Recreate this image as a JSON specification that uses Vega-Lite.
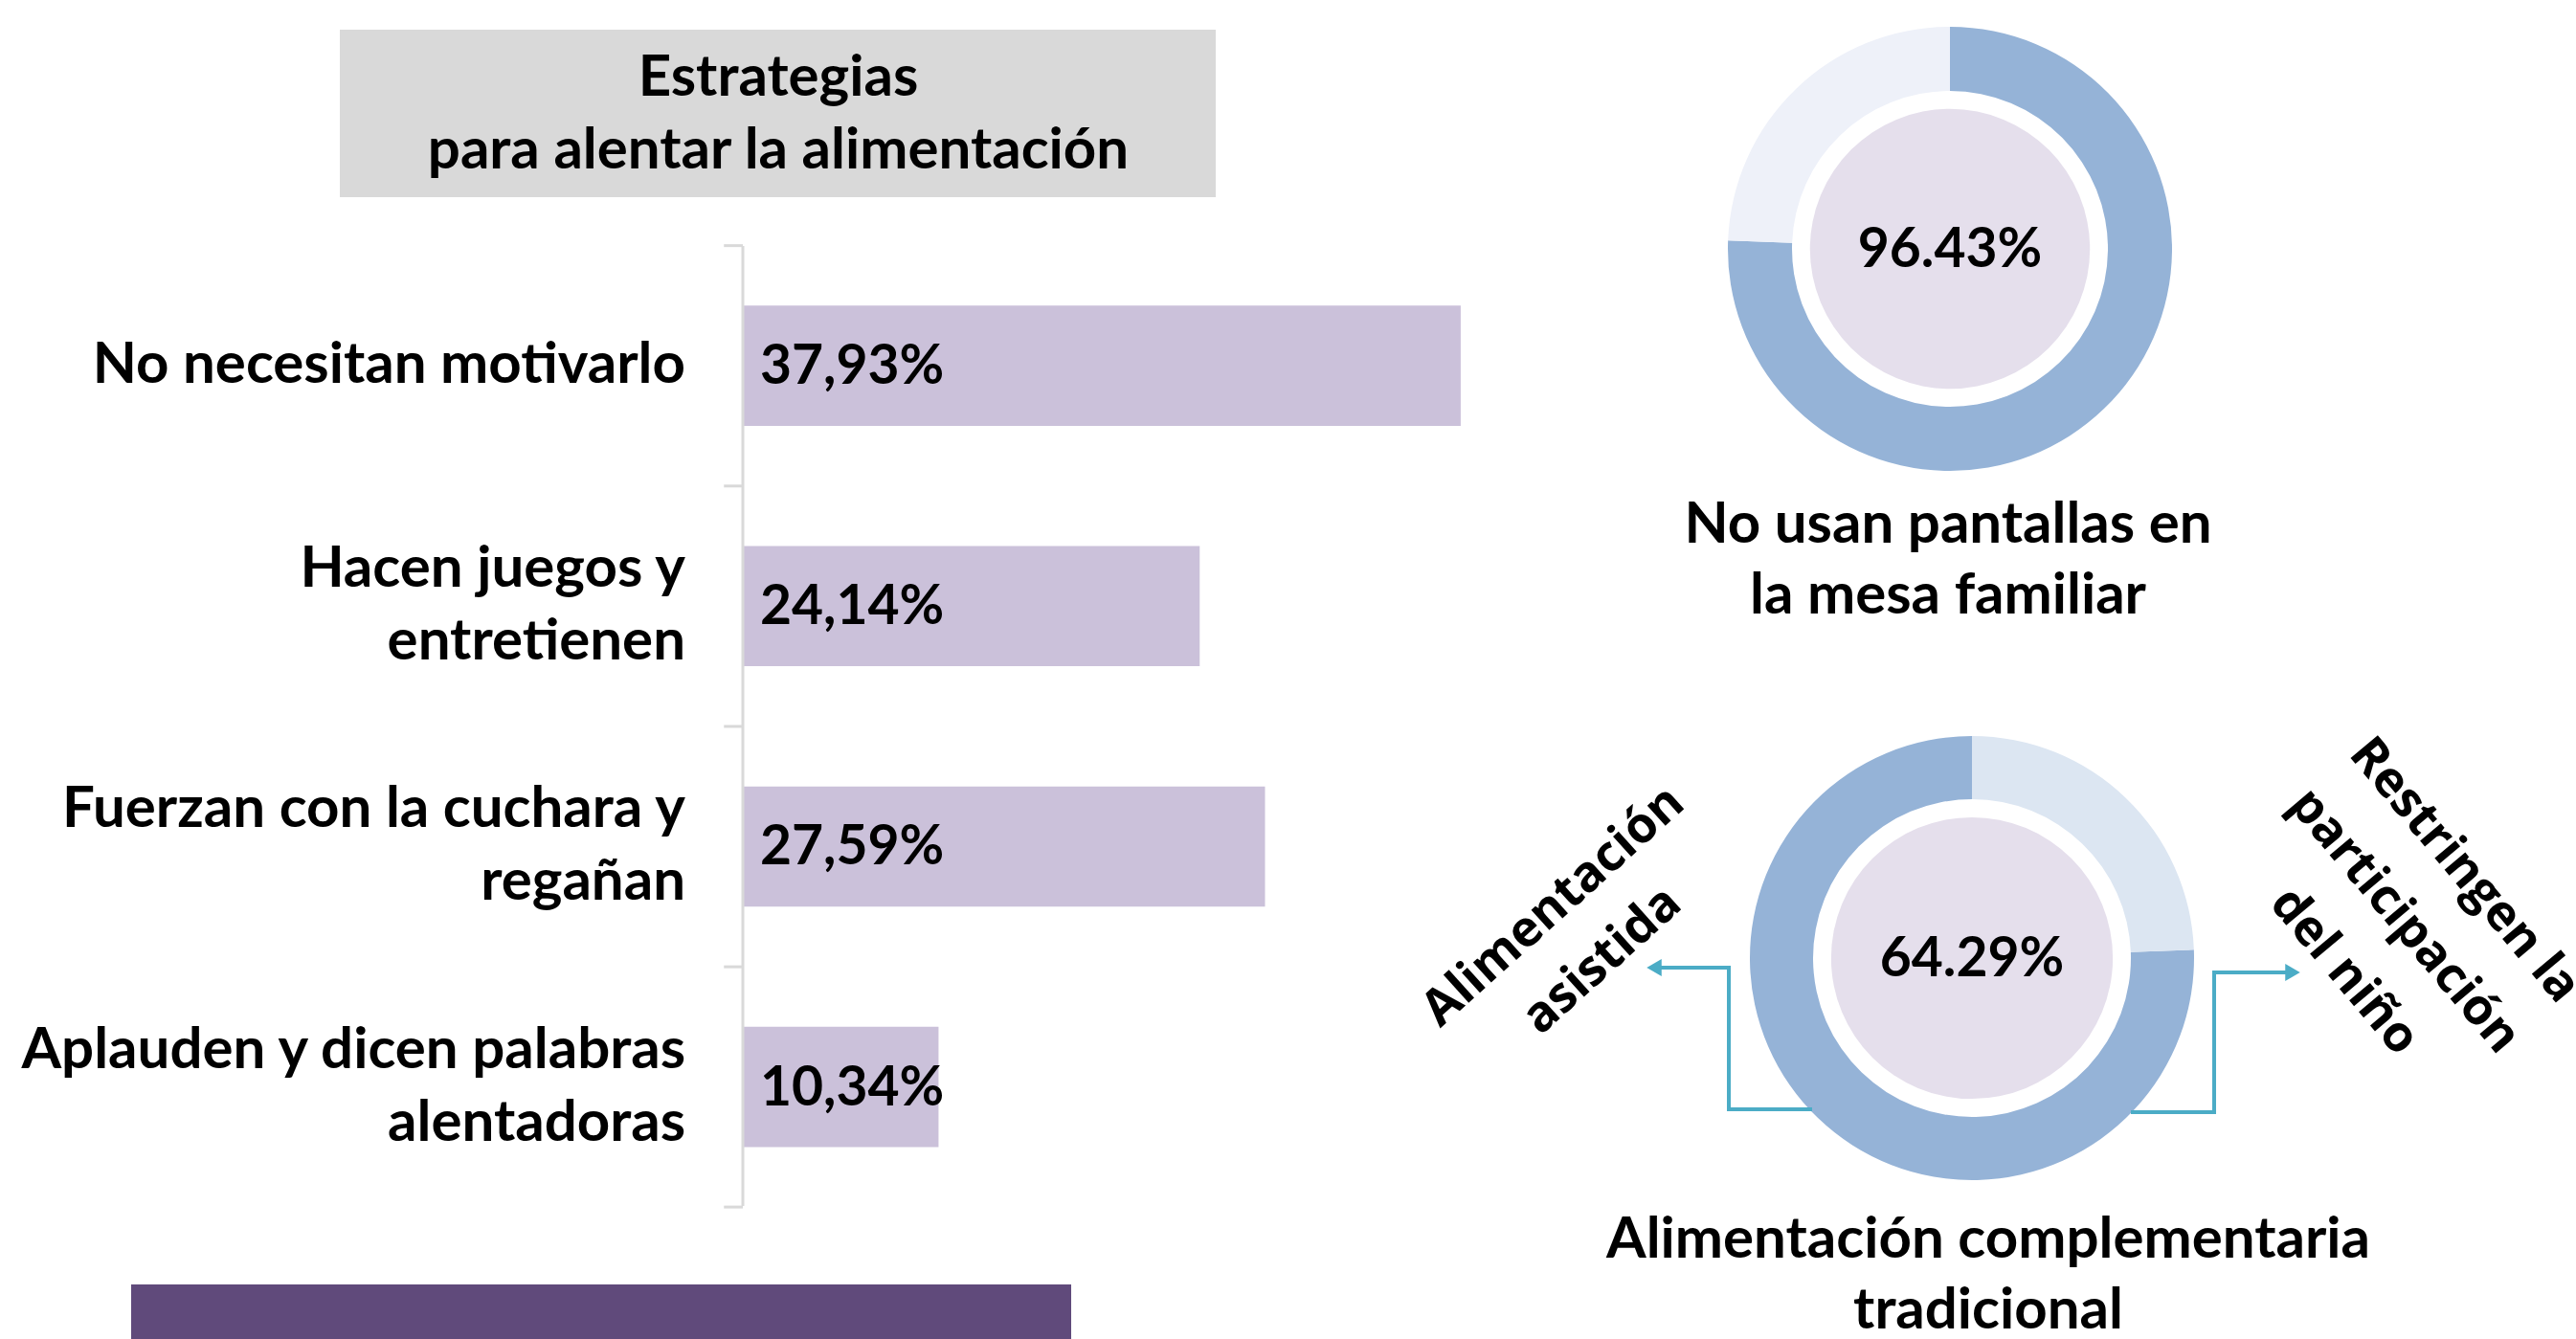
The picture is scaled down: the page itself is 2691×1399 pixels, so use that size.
{
  "$schema": "https://vega.github.io/schema/vega-lite/v6.json",
  "width": 2691,
  "height": 1399,
  "autosize": {"type": "none"},
  "padding": 0,
  "background": "white",
  "config": {"view": {"stroke": null}, "font": "Lato"},
  "datasets": {
    "estrategias": [
      {"estrategia": "No necesitan motivarlo", "porcentaje": 37.93},
      {"estrategia": "Hacen juegos y\nentretienen", "porcentaje": 24.14},
      {"estrategia": "Fuerzan con la cuchara y\nregañan", "porcentaje": 27.59},
      {"estrategia": "Aplauden y dicen palabras\nalentadoras", "porcentaje": 10.34}
    ],
    "anillos": [
      {"dona": "pantallas", "respuesta": "Sí", "valor": 75.6},
      {"dona": "pantallas", "respuesta": "No", "valor": 24.4},
      {"dona": "tradicional", "respuesta": "Sí", "valor": 75.6},
      {"dona": "tradicional", "respuesta": "No", "valor": 24.4}
    ],
    "donas": [
      {"dona": "pantallas", "centro": "96.43%", "titulo": "No usan pantallas en\nla mesa familiar"},
      {"dona": "tradicional", "centro": "64.29%", "titulo": "Alimentación complementaria\ntradicional"}
    ],
    "notas": [
      {"lado": "izquierda", "texto": "Alimentación\nasistida"},
      {"lado": "derecha", "texto": "Restringen la\nparticipación\ndel niño"}
    ],
    "encabezado": [
      {"texto": "Estrategias\npara alentar la alimentación"}
    ]
  },
  "resolve": {"scale": {"x": "independent", "y": "independent"}},
  "layer": [
    {
      "data": {"name": "estrategias"},
      "transform": [
        {"calculate": "replace(format(datum.porcentaje, '.2f'), '.', ',') + '%'", "as": "etiqueta"}
      ],
      "encoding": {
        "y": {
          "field": "estrategia", "type": "nominal", "sort": null, "axis": null,
          "scale": {"paddingInner": 0, "paddingOuter": 0.785, "align": 0.6506}
        }
      },
      "layer": [
        {
          "mark": {"type": "bar", "color": "#CBC1DA", "height": {"band": 0.5}},
          "encoding": {
            "x": {"field": "porcentaje", "type": "quantitative", "axis": null,
                  "scale": {"domain": [-39.25, 96.86], "nice": false, "zero": false}}
          }
        },
        {
          "mark": {"type": "text", "align": "left", "baseline": "middle", "dx": 18, "dy": 2,
                   "font": "Lato", "fontWeight": "bold", "fontSize": 57, "color": "#000000"},
          "encoding": {
            "x": {"datum": 0, "type": "quantitative"},
            "text": {"field": "etiqueta"}
          }
        },
        {
          "transform": [{"filter": "indexof(datum.estrategia, '\\n') < 0"}],
          "mark": {"type": "text", "align": "right", "baseline": "middle", "dx": -60,
                   "font": "Lato", "fontWeight": "bold", "fontSize": 60, "color": "#000000"},
          "encoding": {
            "x": {"datum": 0, "type": "quantitative"},
            "text": {"field": "estrategia"}
          }
        },
        {
          "transform": [{"filter": "indexof(datum.estrategia, '\\n') >= 0"}],
          "mark": {"type": "text", "align": "right", "baseline": "middle", "dx": -60, "dy": -38,
                   "lineBreak": "\n", "lineHeight": 76,
                   "font": "Lato", "fontWeight": "bold", "fontSize": 60, "color": "#000000"},
          "encoding": {
            "x": {"datum": 0, "type": "quantitative"},
            "text": {"field": "estrategia"}
          }
        },
        {
          "mark": {"type": "rule", "color": "#D9D9D9", "strokeWidth": 3, "yOffset": -125.5},
          "encoding": {
            "x": {"datum": -1.0, "type": "quantitative"},
            "x2": {"datum": 0}
          }
        },
        {
          "transform": [{"filter": "indexof(datum.estrategia, 'Aplauden') === 0"}],
          "mark": {"type": "rule", "color": "#D9D9D9", "strokeWidth": 3, "yOffset": 125.5},
          "encoding": {
            "x": {"datum": -1.0, "type": "quantitative"},
            "x2": {"datum": 0}
          }
        }
      ]
    },
    {
      "layer": [
        {
          "data": {"values": [{}]},
          "mark": {"type": "rect", "color": "#D9D9D9"},
          "encoding": {
            "x": {"datum": 355, "type": "quantitative", "axis": null, "scale": {"domain": [0, 2691], "nice": false, "zero": false}},
            "x2": {"datum": 1270},
            "y": {"datum": 31, "type": "quantitative", "axis": null, "scale": {"domain": [0, 1399], "nice": false, "zero": false, "reverse": true}},
            "y2": {"datum": 206}
          }
        },
        {
          "data": {"name": "encabezado"},
          "mark": {"type": "text", "align": "center", "baseline": "middle", "lineBreak": "\n", "lineHeight": 76, "dy": -38,
                   "font": "Lato", "fontWeight": "bold", "fontSize": 60, "color": "#000000"},
          "encoding": {
            "x": {"datum": 813, "type": "quantitative"},
            "y": {"datum": 120, "type": "quantitative"},
            "text": {"field": "texto"}
          }
        },
        {
          "data": {"values": [{}]},
          "mark": {"type": "rect", "color": "#604A7B"},
          "encoding": {
            "x": {"datum": 137, "type": "quantitative"},
            "x2": {"datum": 1119},
            "y": {"datum": 1342, "type": "quantitative"},
            "y2": {"datum": 1399}
          }
        },
        {
          "data": {"values": [{}]},
          "mark": {"type": "rule", "color": "#D9D9D9", "strokeWidth": 3},
          "encoding": {
            "x": {"datum": 776, "type": "quantitative"},
            "y": {"datum": 257, "type": "quantitative"},
            "y2": {"datum": 1260}
          }
        },
        {
          "data": {"name": "anillos"},
          "transform": [{"filter": "datum.dona === 'pantallas'"}],
          "mark": {"type": "arc", "innerRadius": 165, "outerRadius": 232},
          "encoding": {
            "x": {"datum": 2037, "type": "quantitative"},
            "y": {"datum": 260, "type": "quantitative"},
            "theta": {"field": "valor", "type": "quantitative", "stack": true},
            "order": {"field": "respuesta", "sort": "descending"},
            "color": {"condition": {"test": "datum.respuesta === 'No'", "value": "#EEF1F9"}, "value": "#95B3D7"}
          }
        },
        {
          "data": {"name": "anillos"},
          "transform": [{"filter": "datum.dona === 'tradicional'"}],
          "mark": {"type": "arc", "innerRadius": 166, "outerRadius": 232},
          "encoding": {
            "x": {"datum": 2060, "type": "quantitative"},
            "y": {"datum": 1001, "type": "quantitative"},
            "theta": {"field": "valor", "type": "quantitative", "stack": true},
            "order": {"field": "respuesta", "sort": "ascending"},
            "color": {"condition": {"test": "datum.respuesta === 'No'", "value": "#DCE6F2"}, "value": "#95B3D7"}
          }
        },
        {
          "data": {"name": "donas"},
          "transform": [{"filter": "datum.dona === 'pantallas'"}],
          "layer": [
            {
              "mark": {"type": "point", "shape": "circle", "filled": true, "opacity": 1, "size": 85530, "color": "#E5DFEC", "strokeWidth": 0},
              "encoding": {
                "x": {"datum": 2037, "type": "quantitative"},
                "y": {"datum": 260, "type": "quantitative"}
              }
            },
            {
              "mark": {"type": "text", "align": "center", "baseline": "middle",
                       "font": "Lato", "fontWeight": "bold", "fontSize": 57, "color": "#000000"},
              "encoding": {
                "x": {"datum": 2037, "type": "quantitative"},
                "y": {"datum": 262, "type": "quantitative"},
                "text": {"field": "centro"}
              }
            },
            {
              "mark": {"type": "text", "align": "center", "baseline": "middle", "lineBreak": "\n", "lineHeight": 74, "dy": -37,
                       "font": "Lato", "fontWeight": "bold", "fontSize": 60, "color": "#000000"},
              "encoding": {
                "x": {"datum": 2035, "type": "quantitative"},
                "y": {"datum": 586, "type": "quantitative"},
                "text": {"field": "titulo"}
              }
            }
          ]
        },
        {
          "data": {"name": "donas"},
          "transform": [{"filter": "datum.dona === 'tradicional'"}],
          "layer": [
            {
              "mark": {"type": "point", "shape": "circle", "filled": true, "opacity": 1, "size": 86570, "color": "#E5DFEC", "strokeWidth": 0},
              "encoding": {
                "x": {"datum": 2060, "type": "quantitative"},
                "y": {"datum": 1001, "type": "quantitative"}
              }
            },
            {
              "mark": {"type": "text", "align": "center", "baseline": "middle",
                       "font": "Lato", "fontWeight": "bold", "fontSize": 57, "color": "#000000"},
              "encoding": {
                "x": {"datum": 2060, "type": "quantitative"},
                "y": {"datum": 1003, "type": "quantitative"},
                "text": {"field": "centro"}
              }
            },
            {
              "mark": {"type": "text", "align": "center", "baseline": "middle", "lineBreak": "\n", "lineHeight": 74, "dy": -37,
                       "font": "Lato", "fontWeight": "bold", "fontSize": 60, "color": "#000000"},
              "encoding": {
                "x": {"datum": 2077, "type": "quantitative"},
                "y": {"datum": 1333, "type": "quantitative"},
                "text": {"field": "titulo"}
              }
            }
          ]
        },
        {
          "data": {"values": [{}]},
          "layer": [
            {"mark": {"type": "rule", "color": "#4BACC6", "strokeWidth": 4},
             "encoding": {"x": {"datum": 1893, "type": "quantitative"}, "x2": {"datum": 1806}, "y": {"datum": 1159, "type": "quantitative"}}},
            {"mark": {"type": "rule", "color": "#4BACC6", "strokeWidth": 4},
             "encoding": {"x": {"datum": 1806, "type": "quantitative"}, "y": {"datum": 1161, "type": "quantitative"}, "y2": {"datum": 1011}}},
            {"mark": {"type": "rule", "color": "#4BACC6", "strokeWidth": 4},
             "encoding": {"x": {"datum": 1808, "type": "quantitative"}, "x2": {"datum": 1730}, "y": {"datum": 1011, "type": "quantitative"}}},
            {"mark": {"type": "point", "shape": "triangle-left", "filled": true, "opacity": 1, "size": 320, "color": "#4BACC6"},
             "encoding": {"x": {"datum": 1728, "type": "quantitative"}, "y": {"datum": 1011, "type": "quantitative"}}},
            {"mark": {"type": "rule", "color": "#4BACC6", "strokeWidth": 4},
             "encoding": {"x": {"datum": 2226, "type": "quantitative"}, "x2": {"datum": 2313}, "y": {"datum": 1162, "type": "quantitative"}}},
            {"mark": {"type": "rule", "color": "#4BACC6", "strokeWidth": 4},
             "encoding": {"x": {"datum": 2313, "type": "quantitative"}, "y": {"datum": 1164, "type": "quantitative"}, "y2": {"datum": 1016}}},
            {"mark": {"type": "rule", "color": "#4BACC6", "strokeWidth": 4},
             "encoding": {"x": {"datum": 2311, "type": "quantitative"}, "x2": {"datum": 2393}, "y": {"datum": 1016, "type": "quantitative"}}},
            {"mark": {"type": "point", "shape": "triangle-right", "filled": true, "opacity": 1, "size": 320, "color": "#4BACC6"},
             "encoding": {"x": {"datum": 2395, "type": "quantitative"}, "y": {"datum": 1016, "type": "quantitative"}}}
          ]
        },
        {
          "data": {"name": "notas"},
          "transform": [{"filter": "datum.lado === 'izquierda'"}],
          "mark": {"type": "text", "align": "center", "baseline": "middle", "lineBreak": "\n", "lineHeight": 76, "angle": -42, "dy": -38,
                   "font": "Open Sans", "fontWeight": "bold", "fontSize": 52, "color": "#000000"},
          "encoding": {
            "x": {"datum": 1648, "type": "quantitative"},
            "y": {"datum": 975, "type": "quantitative"},
            "text": {"field": "texto"}
          }
        },
        {
          "data": {"name": "notas"},
          "transform": [{"filter": "datum.lado === 'derecha'"}],
          "mark": {"type": "text", "align": "center", "baseline": "middle", "lineBreak": "\n", "lineHeight": 82, "angle": 50, "dy": -82,
                   "font": "Open Sans", "fontWeight": "bold", "fontSize": 52, "color": "#000000"},
          "encoding": {
            "x": {"datum": 2512, "type": "quantitative"},
            "y": {"datum": 962, "type": "quantitative"},
            "text": {"field": "texto"}
          }
        }
      ]
    }
  ]
}
